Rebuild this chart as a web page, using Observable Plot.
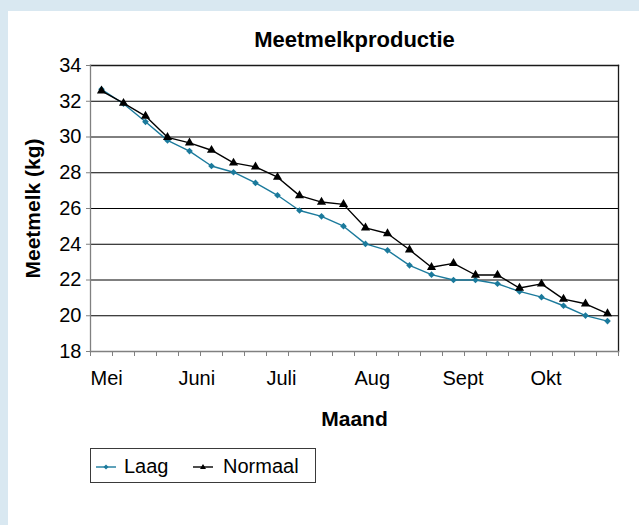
<!DOCTYPE html>
<html>
<head>
<meta charset="utf-8">
<script src="https://cdn.jsdelivr.net/npm/d3@7"></script>
<script src="https://cdn.jsdelivr.net/npm/@observablehq/plot@0.6"></script>
<style>
  html, body { margin: 0; padding: 0; }
  body { width: 639px; height: 525px; background: #d9e8f1; overflow: hidden; position: relative;
         font-family: "Liberation Sans", Arial, sans-serif; }
  #panel { position: absolute; left: 8px; top: 11px; width: 631px; height: 514px; background: #fff; }
  #title { position: absolute; left: 0; top: 18px; width: 631px; padding-left: 62px; box-sizing: border-box;
           text-align: center; font-size: 22px; line-height: 22px; font-weight: bold; color: #000; }
  #legend { position: absolute; left: 82px; top: 437px; width: 226px; height: 35px; box-sizing: border-box;
            border: 1px solid #3a3a3a; background: #fff; }
  #legend .lbl { position: absolute; top: 7px; font-size: 20px; line-height: 20px; color: #000; white-space: nowrap; }
  #legend svg { position: absolute; top: 13px; }
</style>
</head>
<body>
<div id="panel">
  <div id="title">Meetmelkproductie</div>
  <div id="chart"></div>
  <div id="legend"></div>
</div>
<script>
// ---- data ----
const weeks = [
  "Mei 1", "Mei 2", "Mei 3", "Mei 4",
  "Juni 1", "Juni 2", "Juni 3", "Juni 4",
  "Juli 1", "Juli 2", "Juli 3", "Juli 4",
  "Aug 1", "Aug 2", "Aug 3", "Aug 4",
  "Sept 1", "Sept 2", "Sept 3", "Sept 4",
  "Okt 1", "Okt 2", "Okt 3", "Okt 4"
];
const laag = [32.67, 31.86, 30.85, 29.81, 29.21, 28.38, 28.03, 27.43, 26.74, 25.89, 25.56, 25.01,
              24.02, 23.66, 22.82, 22.30, 22.00, 22.00, 21.79, 21.36, 21.04, 20.56, 20.01, 19.70];
const normaal = [32.58, 31.89, 31.17, 29.98, 29.67, 29.26, 28.55, 28.33, 27.75, 26.72, 26.36, 26.23,
                 24.92, 24.60, 23.69, 22.71, 22.93, 22.28, 22.28, 21.55, 21.78, 20.93, 20.67, 20.12];
const monthLabels = ["Mei", "Juni", "Juli", "Aug", "Sept", "Okt"];
const monthTicks = ["Mei 1", "Juni 1", "Juli 1", "Aug 1", "Sept 1", "Okt 1"];
const yTicks = [18, 20, 22, 24, 26, 28, 30, 32, 34];
const gridTicks = [20, 22, 24, 26, 28, 30, 32];
const seriesNames = ["Laag", "Normaal"];
const colors = {Laag: "#1b7a9c", Normaal: "#000000"};

const rows = [
  ...weeks.map((w, i) => ({week: w, value: laag[i], series: "Laag"})),
  ...weeks.map((w, i) => ({week: w, value: normaal[i], series: "Normaal"}))
];

// ---- layout ----
const W = 631, H = 386;
const mL = 82, mR = 21, mT = 11, mB = 89;
const step = (W - mL - mR) / weeks.length;

const chart = Plot.plot({
  width: W,
  height: H,
  marginLeft: mL,
  marginRight: mR,
  marginTop: mT,
  marginBottom: mB,
  style: {position: "absolute", left: "0px", top: "43px", background: "transparent",
          fontFamily: "'Liberation Sans', Arial, sans-serif", color: "#000", overflow: "visible"},
  x: {type: "point", domain: weeks, padding: 0.5, axis: null},
  y: {domain: [18, 34], axis: null},
  marks: [
    Plot.ruleY(gridTicks, {stroke: "#000", strokeWidth: 1}),
    Plot.frame({anchor: "top", stroke: "#1a1a1a", strokeWidth: 1.3}),
    Plot.frame({anchor: "right", stroke: "#1a1a1a", strokeWidth: 1.3}),
    Plot.frame({anchor: "left", stroke: "#808080", strokeWidth: 1.3}),
    Plot.frame({anchor: "bottom", stroke: "#808080", strokeWidth: 1.3}),
    Plot.axisY(yTicks, {anchor: "left", tickSize: 4, tickPadding: 5, fontSize: 20, stroke: "#808080", fill: "#000", label: null}),
    Plot.axisX(weeks, {anchor: "bottom", tickSize: 5, dx: -step / 2, stroke: "#808080", fill: "none", label: null}),
    Plot.axisX([weeks[weeks.length - 1]], {anchor: "bottom", tickSize: 5, dx: step / 2, stroke: "#808080", fill: "none", label: null}),
    Plot.text(monthLabels, {x: monthTicks, text: d => d, frameAnchor: "bottom", lineAnchor: "bottom",
      textAnchor: "start", dx: -step / 2, dy: 33, fontSize: 20, fill: "#000"}),
    Plot.text(["Maand"], {text: d => d, frameAnchor: "bottom", lineAnchor: "bottom", textAnchor: "middle", dy: 74,
      fontSize: 21, fontWeight: "bold", fill: "#000"}),
    Plot.text(["Meetmelk (kg)"], {text: d => d, frameAnchor: "left", rotate: -90, lineAnchor: "middle",
      textAnchor: "middle", dx: -57, fontSize: 21, fontWeight: "bold", fill: "#000"}),
    Plot.line(rows, {x: "week", y: "value", z: "series", stroke: d => colors[d.series], strokeWidth: 1.4}),
    Plot.dot(rows.filter(d => d.series === "Laag"), {x: "week", y: "value", symbol: "diamond2", r: 3,
      fill: colors.Laag, stroke: "none"}),
    Plot.dot(rows.filter(d => d.series === "Normaal"), {x: "week", y: "value", symbol: "triangle", r: 3.4,
      fill: colors.Normaal, stroke: "none"})
  ]
});
document.getElementById("chart").appendChild(chart);

// ---- legend ----
const legend = document.getElementById("legend");
const legendPos = {Laag: {sw: 5, lbl: 33}, Normaal: {sw: 102, lbl: 132}};
const ns = "http://www.w3.org/2000/svg";
for (const name of seriesNames) {
  const svg = document.createElementNS(ns, "svg");
  svg.setAttribute("width", 20); svg.setAttribute("height", 10);
  svg.style.left = legendPos[name].sw + "px";
  const line = document.createElementNS(ns, "line");
  line.setAttribute("x1", 0); line.setAttribute("x2", 20);
  line.setAttribute("y1", 5); line.setAttribute("y2", 5);
  line.setAttribute("stroke", colors[name]); line.setAttribute("stroke-width", 1.4);
  svg.appendChild(line);
  const m = document.createElementNS(ns, "path");
  m.setAttribute("d", name === "Laag" ? "M10,2.5L12.5,5L10,7.5L7.5,5Z" : "M10,2L13,7L7,7Z");
  m.setAttribute("fill", colors[name]);
  svg.appendChild(m);
  legend.appendChild(svg);
  const lbl = document.createElement("span");
  lbl.className = "lbl";
  lbl.style.left = legendPos[name].lbl + "px";
  lbl.textContent = name;
  legend.appendChild(lbl);
}
</script>
</body>
</html>
